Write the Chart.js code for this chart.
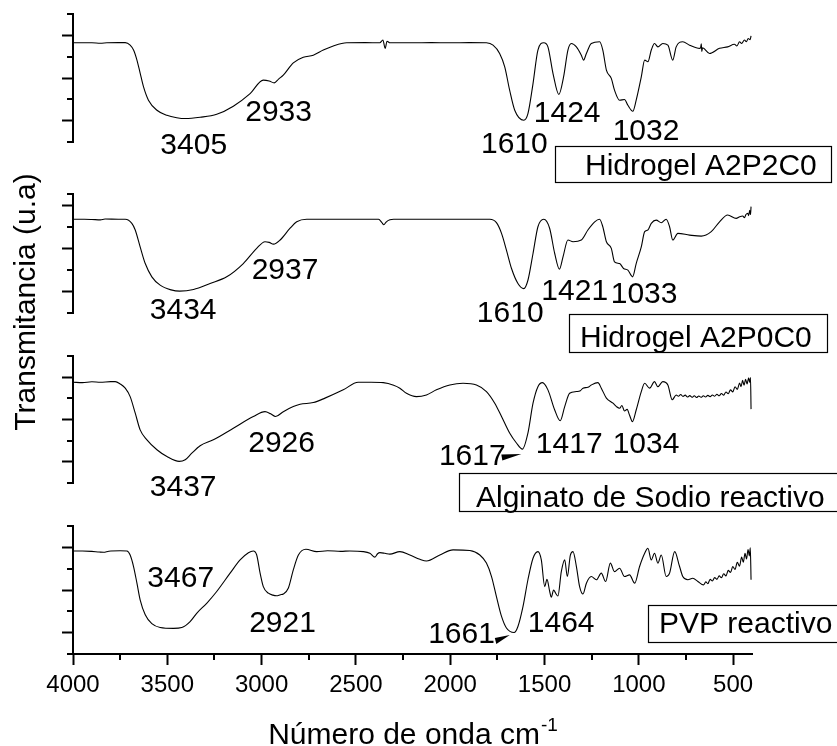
<!DOCTYPE html>
<html lang="es">
<head>
<meta charset="utf-8">
<title>Espectros FTIR</title>
<script src="https://cdn.jsdelivr.net/npm/chart.js@4.4.1/dist/chart.umd.min.js"></script>
<style>
  html, body { margin: 0; padding: 0; background: #fff; }
  #stage { position: relative; width: 837px; height: 746px; overflow: hidden; background: #fff; }
  #stage canvas { position: absolute; left: 0; top: 0; }
</style>
</head>
<body>
<div id="stage">
  <canvas id="p1" width="837" height="746"></canvas>
  <canvas id="p2" width="837" height="746"></canvas>
  <canvas id="p3" width="837" height="746"></canvas>
  <canvas id="p4" width="837" height="746"></canvas>
</div>
<script>
const FONT = "'Liberation Sans', Arial, Helvetica, sans-serif";

// ---------- data ----------
const seriesNames = ['Hidrogel A2P2C0', 'Hidrogel A2P0C0', 'Alginato de Sodio reactivo', 'PVP reactivo'];

// [wavenumber (cm-1), transmittance (u.a)]
const a2p2c0 = [
  [4000,4.65],[3940,4.65],[3900,4.65],[3855,4.63],[3820,4.65],[3760,4.66],[3723,4.66],[3697,4.54],[3679,4.31],
  [3661,3.84],[3644,3.23],[3626,2.58],[3600,1.96],[3555,1.49],[3502,1.25],[3450,1.14],[3405,1.10],[3326,1.16],
  [3238,1.30],[3150,1.68],[3061,2.27],[2991,2.90],[2960,2.86],[2933,2.77],[2910,2.95],[2885,3.13],[2832,3.71],
  [2779,3.97],[2726,4.07],[2673,4.31],[2620,4.50],[2549,4.65],[2450,4.66],[2373,4.65],[2357,4.78],[2345,4.39],
  [2335,4.72],[2320,4.65],[2200,4.65],[2100,4.66],[2000,4.65],[1900,4.66],[1808,4.65],[1773,4.54],[1738,4.15],
  [1711,3.52],[1685,2.43],[1658,1.49],[1610,1.02],[1588,1.33],[1561,2.74],[1535,4.31],[1504,4.65],[1482,4.46],
  [1455,3.21],[1424,2.23],[1399,3.05],[1376,4.31],[1358,4.62],[1331,4.46],[1305,4.07],[1293,3.84],[1278,4.15],
  [1252,4.62],[1208,4.70],[1191,4.31],[1172,3.37],[1146,2.98],[1129,2.43],[1102,1.96],[1076,1.99],[1058,1.72],
  [1032,1.44],[1014,1.96],[987,3.05],[969,3.84],[952,3.76],[934,4.31],[917,4.62],[899,4.46],[873,4.62],[846,4.54],
  [820,3.84],[802,4.46],[767,4.70],[731,4.54],[678,4.39],[673,4.40],[669,4.60],[666,4.25],[662,4.42],[625,4.15],
  [572,4.39],[529,4.46],[493,4.58],[480,4.50],[466,4.70],[455,4.62],[440,4.78],[430,4.70],[420,4.85],[410,4.80],[405,4.97]
];
const a2p0c0 = [
  [4000,4.38],[3940,4.38],[3900,4.37],[3855,4.35],[3830,4.39],[3760,4.38],[3723,4.38],[3688,4.19],[3670,3.88],
  [3644,3.09],[3617,2.31],[3582,1.69],[3538,1.30],[3480,1.08],[3434,1.02],[3361,1.10],[3273,1.38],[3185,1.69],
  [3097,2.31],[3026,3.02],[2982,3.33],[2960,3.30],[2937,3.22],[2902,3.41],[2849,3.96],[2814,4.26],[2761,4.38],
  [2600,4.38],[2500,4.38],[2380,4.38],[2362,4.22],[2352,4.12],[2340,4.25],[2320,4.36],[2300,4.38],[2150,4.38],
  [2000,4.38],[1900,4.38],[1790,4.38],[1755,4.22],[1728,3.72],[1702,2.94],[1675,2.08],[1641,1.38],[1610,1.14],
  [1588,1.53],[1561,2.78],[1535,4.03],[1504,4.38],[1473,3.96],[1446,2.78],[1421,2.05],[1402,2.62],[1376,3.41],
  [1349,3.33],[1305,3.41],[1270,3.88],[1234,4.26],[1208,4.38],[1191,4.03],[1172,3.33],[1146,3.02],[1129,2.39],
  [1102,2.31],[1081,2.08],[1058,2.00],[1033,1.69],[1014,2.31],[987,3.09],[969,3.80],[952,3.88],[934,4.19],
  [908,4.34],[881,4.22],[855,4.38],[837,4.03],[820,3.41],[793,3.72],[731,3.64],[669,3.59],[616,3.80],[572,4.26],
  [529,4.58],[484,4.42],[465,4.50],[449,4.53],[440,4.45],[432,4.60],[423,4.66],[418,4.55],[412,4.80],[408,4.60],[405,4.97]
];
const alginato = [
  [4000,4.76],[3950,4.74],[3900,4.78],[3855,4.76],[3800,4.79],[3776,4.79],[3750,4.68],[3723,4.48],[3697,4.08],
  [3670,3.30],[3644,2.51],[3608,2.04],[3555,1.57],[3502,1.25],[3437,1.02],[3405,1.10],[3370,1.41],[3326,1.76],
  [3256,2.04],[3150,2.59],[3044,3.14],[2982,3.37],[2952,3.27],[2926,3.14],[2885,3.37],[2832,3.61],[2796,3.72],
  [2726,3.80],[2664,4.01],[2567,4.40],[2488,4.76],[2420,4.76],[2355,4.74],[2300,4.62],[2267,4.48],[2232,4.24],
  [2179,4.08],[2126,4.16],[2073,4.40],[2002,4.63],[1932,4.71],[1861,4.63],[1808,4.32],[1764,3.77],[1728,3.14],
  [1685,2.36],[1649,1.89],[1617,1.60],[1588,2.36],[1561,3.77],[1535,4.55],[1511,4.74],[1482,4.40],[1446,3.45],
  [1417,2.94],[1393,3.61],[1367,4.24],[1331,4.32],[1310,4.36],[1296,4.48],[1270,4.52],[1252,4.63],[1217,4.74],
  [1199,4.48],[1172,4.01],[1137,3.77],[1120,3.62],[1102,3.53],[1090,3.66],[1076,3.40],[1062,3.48],[1049,3.20],
  [1034,2.90],[1014,3.45],[987,4.32],[969,4.71],[943,4.48],[917,4.79],[899,4.55],[873,4.79],[846,4.63],[823,3.93],
  [802,4.16],[790,4.10],[778,4.18],[766,4.09],[754,4.15],[742,4.06],[730,4.13],[718,4.05],[706,4.12],[694,4.04],
  [682,4.11],[670,4.05],[658,4.12],[646,4.06],[634,4.14],[622,4.08],[610,4.16],[598,4.10],[586,4.19],[574,4.12],
  [562,4.23],[550,4.15],[538,4.30],[526,4.22],[514,4.40],[502,4.30],[490,4.55],[478,4.42],[466,4.72],[458,4.55],
  [450,4.85],[442,4.62],[434,4.90],[426,4.68],[418,4.97],[412,4.75],[408,4.98],[405,3.49]
];
const pvp = [
  [4000,4.83],[3950,4.83],[3900,4.81],[3860,4.78],[3838,4.77],[3810,4.82],[3750,4.84],[3714,4.83],[3697,4.64],
  [3679,4.10],[3661,3.32],[3644,2.54],[3617,1.84],[3582,1.42],[3538,1.24],[3467,1.20],[3423,1.24],[3379,1.52],
  [3343,1.92],[3290,2.39],[3238,2.93],[3167,3.79],[3114,4.41],[3070,4.75],[3044,4.83],[3026,4.64],[3008,3.79],
  [2991,3.16],[2964,2.85],[2940,2.76],[2921,2.73],[2900,2.78],[2885,2.81],[2858,3.09],[2832,3.94],[2805,4.64],
  [2765,4.91],[2708,4.80],[2650,4.84],[2580,4.81],[2532,4.83],[2461,4.80],[2426,4.72],[2399,4.54],[2385,4.70],
  [2373,4.75],[2346,4.72],[2320,4.68],[2267,4.80],[2214,4.64],[2161,4.44],[2126,4.36],[2055,4.64],[1985,4.88],
  [1896,4.85],[1843,4.64],[1808,4.26],[1781,3.63],[1755,2.69],[1728,1.76],[1702,1.22],[1661,1.01],[1641,1.29],
  [1614,2.23],[1588,3.48],[1561,4.49],[1535,4.80],[1517,4.41],[1499,3.16],[1487,3.50],[1473,2.95],[1464,2.66],
  [1452,3.00],[1441,2.85],[1429,2.72],[1411,3.86],[1393,4.41],[1379,3.63],[1363,4.64],[1349,4.80],[1331,4.10],
  [1314,3.16],[1296,2.81],[1278,3.32],[1252,3.63],[1225,3.48],[1199,3.79],[1176,3.40],[1151,4.26],[1129,3.86],
  [1102,4.02],[1076,3.63],[1049,3.71],[1022,3.32],[996,4.10],[969,4.72],[952,4.96],[934,4.41],[917,4.72],
  [899,4.26],[881,4.64],[855,3.63],[837,3.79],[810,4.80],[784,4.10],[767,3.63],[740,3.48],[714,3.55],[687,3.40],
  [657,3.24],[645,3.38],[634,3.30],[622,3.50],[610,3.42],[598,3.58],[586,3.50],[574,3.66],[562,3.58],[550,3.76],
  [538,3.66],[526,3.92],[514,3.82],[502,4.10],[490,3.96],[478,4.30],[466,4.12],[455,4.55],[446,4.30],[437,4.72],
  [429,4.45],[421,4.90],[414,4.60],[409,4.98],[405,3.48]
];

// band positions (cm-1) written next to each spectrum
const a2p2c0Peaks = [3405, 2933, 1610, 1424, 1032];
const a2p0c0Peaks = [3434, 2937, 1610, 1421, 1033];
const alginatoPeaks = [3437, 2926, 1617, 1417, 1034];
const pvpPeaks = [3467, 2921, 1661, 1464];

// axis ticks
const xTickValues = [4000, 3750, 3500, 3250, 3000, 2750, 2500, 2250, 2000, 1750, 1500, 1250, 1000, 750, 500];
const xLabelValues = [4000, 3500, 3000, 2500, 2000, 1500, 1000, 500];

// ---------- layout of the four stacked panels ----------
const W = 837, H = 746;
const panels = [
  { canvas: 'p1', name: seriesNames[0], data: a2p2c0, peaks: a2p2c0Peaks,
    top: 14, bottom: 142, yMax: 6, yMajor: [1, 3, 5], yMinor: [0, 2, 4, 6],
    labelAt: [[3360, -0.56], [2910, 1.00], [1660, -0.53], [1380, 0.95], [962, 0.09]],
    box: { x: 555.5, y: 146.5, w: 276, h: 36, textX: 585, baseline: 175 } },
  { canvas: 'p2', name: seriesNames[1], data: a2p0c0, peaks: a2p0c0Peaks,
    top: 194, bottom: 313, yMax: 5.56, yMajor: [1, 3, 5], yMinor: [0, 2, 4, 5.56],
    labelAt: [[3416, -0.29], [2876, 1.57], [1682, -0.41], [1340, 0.61], [972, 0.45]],
    box: { x: 569.5, y: 314.5, w: 258, h: 38, textX: 580, baseline: 346.5 } },
  { canvas: 'p3', name: seriesNames[2], data: alginato, peaks: alginatoPeaks,
    top: 356, bottom: 483, yMax: 6, yMajor: [1, 3, 5], yMinor: [0, 2, 4, 6],
    labelAt: [[3416, -0.61], [2894, 1.48], [1883, 0.85], [1369, 1.40], [962, 1.40]],
    arrow: { wn: 1623, t: 1.37, base: [[-20, 0.5], [-19, 6.5]] },
    box: { x: 459.5, y: 473.5, w: 400, h: 38, textX: 476, baseline: 506.5 } },
  { canvas: 'p4', name: seriesNames[3], data: pvp, peaks: pvpPeaks,
    top: 526, bottom: 654, yMax: 6, yMajor: [1, 3, 5], yMinor: [0, 2, 4, 6],
    labelAt: [[3429, 3.13], [2889, 1.05], [1940, 0.50], [1412, 1.05]],
    arrow: { wn: 1684, t: 0.89, base: [[-15, 3], [-13.5, 9]] },
    box: { x: 648.5, y: 605.5, w: 200, h: 37, textX: 659, baseline: 633.3 },
    showX: true }
];

function line(ctx, x1, y1, x2, y2) {
  ctx.beginPath(); ctx.moveTo(x1, y1); ctx.lineTo(x2, y2); ctx.stroke();
}

// short ticks, band labels, arrowheads, legend box and axis titles
function makeDecor(p) {
  return {
    id: 'panelDecor',
    afterDraw(chart) {
      const { ctx } = chart;
      const xs = chart.scales.x, ys = chart.scales.y;
      ctx.save();
      ctx.strokeStyle = '#000';
      ctx.fillStyle = '#000';
      ctx.lineWidth = 2;
      ctx.lineCap = 'butt';

      // minor y ticks
      p.yMinor.forEach(v => {
        const py = Math.round(ys.getPixelForValue(v));
        line(ctx, ys.right - 6, py, ys.right - 1, py);
      });
      // minor x ticks
      if (p.showX) {
        xTickValues.filter(v => !xLabelValues.includes(v)).forEach(v => {
          const px = Math.round(xs.getPixelForValue(v));
          line(ctx, px, xs.top + 1, px, xs.top + 6);
        });
      }

      // band labels
      ctx.font = '30px ' + FONT;
      ctx.textAlign = 'center';
      ctx.textBaseline = 'alphabetic';
      p.peaks.forEach((wn, i) => {
        const [lx, ly] = p.labelAt[i];
        ctx.fillText(String(wn), xs.getPixelForValue(lx), ys.getPixelForValue(ly));
      });

      // arrowhead pointing at the band
      if (p.arrow) {
        const tx = xs.getPixelForValue(p.arrow.wn), ty = ys.getPixelForValue(p.arrow.t);
        ctx.beginPath();
        ctx.moveTo(tx, ty);
        ctx.lineTo(tx + p.arrow.base[0][0], ty + p.arrow.base[0][1]);
        ctx.lineTo(tx + p.arrow.base[1][0], ty + p.arrow.base[1][1]);
        ctx.closePath();
        ctx.fill();
      }

      // series name box
      const b = p.box;
      ctx.lineWidth = 1.2;
      ctx.fillStyle = '#fff';
      ctx.fillRect(b.x, b.y, b.w, b.h);
      ctx.strokeRect(b.x, b.y, b.w, b.h);
      ctx.fillStyle = '#000';
      ctx.textAlign = 'left';
      ctx.fillText(chart.data.datasets[0].label, b.textX, b.baseline);

      // axis titles
      if (p.showX) {
        const main = 'Número de onda cm', sup = '-1';
        ctx.font = '30px ' + FONT;
        const w1 = ctx.measureText(main).width;
        ctx.font = '19px ' + FONT;
        const w2 = ctx.measureText(sup).width;
        const cx = (chart.chartArea.left + chart.chartArea.right) / 2;
        const x0 = cx - (w1 + w2) / 2;
        ctx.font = '30px ' + FONT;
        ctx.fillText(main, x0, 744);
        ctx.font = '19px ' + FONT;
        ctx.fillText(sup, x0 + w1 + 1, 731);

        ctx.save();
        ctx.translate(35, 302);
        ctx.rotate(-Math.PI / 2);
        ctx.font = '30px ' + FONT;
        ctx.textAlign = 'center';
        ctx.fillText('Transmitancia (u.a)', 0, 0);
        ctx.restore();
      }
      ctx.restore();
    }
  };
}

panels.forEach(p => {
  const showX = !!p.showX;
  new Chart(document.getElementById(p.canvas), {
    type: 'line',
    data: {
      datasets: [{
        label: p.name,
        data: p.data.map(([x, y]) => ({ x, y })),
        borderColor: '#000',
        borderWidth: 1.1,
        pointRadius: 0,
        fill: false,
        cubicInterpolationMode: 'monotone'
      }]
    },
    options: {
      responsive: false,
      animation: false,
      events: [],
      layout: { padding: { left: 0, right: W - 752, top: p.top, bottom: showX ? 0 : H - p.bottom } },
      plugins: { legend: { display: false }, tooltip: { enabled: false }, title: { display: false } },
      scales: {
        x: {
          type: 'linear', reverse: true, min: 400, max: 4000, display: showX,
          afterBuildTicks: s => { s.ticks = xTickValues.map(value => ({ value })); },
          afterFit: s => {
            if (showX) { s.height = H - p.bottom; }
            s.paddingLeft = 0; s.paddingRight = 0;
          },
          grid: {
            display: true, drawOnChartArea: false, drawTicks: true, tickLength: 11, tickWidth: 2,
            tickColor: c => (c.tick && xLabelValues.includes(c.tick.value)) ? '#000' : 'rgba(0,0,0,0)'
          },
          border: { display: true, color: '#000', width: 2 },
          ticks: {
            autoSkip: false, maxRotation: 0, minRotation: 0, padding: 6, color: '#000',
            font: { family: FONT, size: 24 },
            callback: v => xLabelValues.includes(v) ? String(v) : ''
          }
        },
        y: {
          type: 'linear', min: 0, max: p.yMax,
          afterBuildTicks: s => {
            s.ticks = [...p.yMajor, ...p.yMinor].sort((a, b) => a - b).map(value => ({ value }));
          },
          afterFit: s => { s.width = 73; s.paddingTop = 0; s.paddingBottom = 0; },
          grid: {
            display: true, drawOnChartArea: false, drawTicks: true, tickLength: 11, tickWidth: 2,
            tickColor: c => (c.tick && p.yMajor.includes(c.tick.value)) ? '#000' : 'rgba(0,0,0,0)'
          },
          border: { display: true, color: '#000', width: 2 },
          ticks: { display: false }
        }
      }
    },
    plugins: [makeDecor(p)]
  });
});
</script>
</body>
</html>
